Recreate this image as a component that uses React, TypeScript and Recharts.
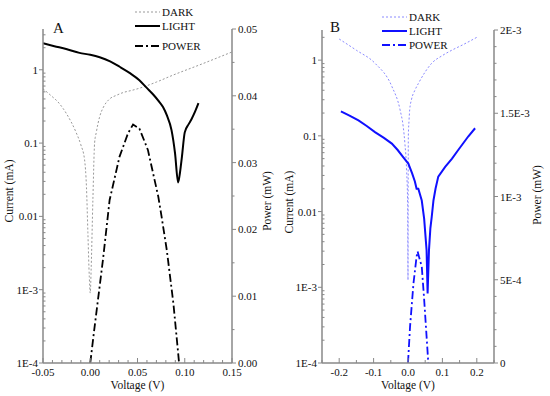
import React from 'react';
import { LineChart, Line, XAxis, YAxis, Legend } from 'recharts';

// ---------- Panel A data ----------
const darkAV = [-0.05, -0.042, -0.033, -0.025, -0.015, -0.01, -0.006, -0.004, -0.0025, -0.001, 0, 0.001, 0.0028, 0.0046, 0.0064, 0.01, 0.014, 0.0205, 0.028, 0.035, 0.043, 0.052, 0.07, 0.088, 0.116, 0.15];
const darkAI = [0.55, 0.45, 0.35, 0.25, 0.14, 0.095, 0.059, 0.025, 0.006, 0.0015, 0.0009, 0.002, 0.017, 0.1, 0.14, 0.23, 0.31, 0.4, 0.45, 0.49, 0.52, 0.56, 0.68, 0.85, 1.17, 1.75];
const lightAV = [-0.05, -0.038, -0.0255, -0.0114, 0, 0.01, 0.021, 0.031, 0.042, 0.052, 0.0596, 0.0666, 0.072, 0.077, 0.081, 0.086, 0.0897, 0.093, 0.095, 0.097, 0.1, 0.104, 0.107, 0.111, 0.1145];
const lightAI = [2.3, 2.1, 1.92, 1.7, 1.6, 1.48, 1.3, 1.1, 0.9, 0.72, 0.57, 0.46, 0.38, 0.31, 0.24, 0.15, 0.073, 0.029, 0.04, 0.065, 0.14, 0.18, 0.21, 0.27, 0.35];
const powerAV = [0, 0.0046, 0.0134, 0.0205, 0.031, 0.04, 0.0453, 0.052, 0.061, 0.072, 0.0755, 0.081, 0.088, 0.093, 0.094];
const powerAP = [0, 0.0054, 0.0154, 0.0244, 0.0309, 0.0344, 0.0357, 0.0351, 0.0319, 0.0249, 0.0219, 0.0169, 0.0089, 0.0015, 0.0];

// ---------- Panel B data ----------
const darkBV = [-0.2, -0.15, -0.096, -0.047, -0.023, -0.0137, -0.009, -0.004, -0.001, 0, 0.0005, 0.001, 0.003, 0.0049, 0.01, 0.02, 0.03, 0.05, 0.069, 0.1, 0.127, 0.16, 0.2];
const darkBI = [1.9, 1.35, 0.91, 0.45, 0.22, 0.13, 0.079, 0.035, 0.012, 0.00125, 0.02, 0.1, 0.16, 0.22, 0.3, 0.4, 0.49, 0.7, 0.91, 1.15, 1.35, 1.6, 2.0];
const lightBV = [-0.195, -0.17, -0.144, -0.12, -0.096, -0.07, -0.047, -0.03, -0.0135, 0.001, 0.012, 0.02, 0.025, 0.03, 0.04, 0.047, 0.054, 0.057, 0.061, 0.065, 0.069, 0.074, 0.08, 0.088, 0.108, 0.128, 0.146, 0.175, 0.195];
const lightBI = [0.21, 0.185, 0.16, 0.135, 0.112, 0.094, 0.079, 0.065, 0.052, 0.043, 0.032, 0.025, 0.02, 0.02, 0.014, 0.008, 0.0031, 0.00083, 0.0031, 0.006, 0.0085, 0.014, 0.02, 0.029, 0.039, 0.05, 0.065, 0.098, 0.126];
const powerBV = [0, 0.006, 0.016, 0.025, 0.028, 0.033, 0.04, 0.047, 0.054, 0.059];
const powerBP = [0, 0.00022, 0.00048, 0.00064, 0.00067, 0.00063, 0.00058, 0.00038, 0.00016, 0];

// ---------- ticks ----------
const logMajors = [1e-4, 1e-3, 0.01, 0.1, 1];
const logLabels = ['1E-4', '1E-3', '0.01', '0.1', '1'];
const xAMajors = [-0.05, 0, 0.05, 0.1, 0.15];
const xALabels = ['-0.05', '0.00', '0.05', '0.10', '0.15'];
const pAMajors = [0, 0.01, 0.02, 0.03, 0.04, 0.05];
const pALabels = ['0.00', '0.01', '0.02', '0.03', '0.04', '0.05'];
const xBMajors = [-0.2, -0.1, 0, 0.1, 0.2];
const xBLabels = ['-0.2', '-0.1', '0.0', '0.1', '0.2'];
const pBMajors = [0, 0.0005, 0.001, 0.0015, 0.002];
const pBLabels = ['0', '5E-4', '1E-3', '1.5E-3', '2E-3'];

const seriesNames = ['DARK', 'LIGHT', 'POWER'];

const FONT = 'Liberation Serif, Times New Roman, serif';
const AXIS = '#888';
const TXT = { fontFamily: FONT } as React.CSSProperties;

const zip = (xs: number[], ys: number[], key: string) => xs.map((v, k) => ({ v, [key]: ys[k] }));

const range = (a: number, b: number, step: number) => {
  const out: number[] = [];
  const n = Math.round((b - a) / step);
  for (let k = 0; k <= n; k++) out.push(+(a + k * step).toFixed(6));
  return out;
};
const logTicks = (() => {
  const out: number[] = [];
  for (let e = -4; e <= 0; e++) for (let m = 1; m <= 9; m++) {
    const v = +(m * Math.pow(10, e)).toPrecision(3);
    if (v <= 3.5) out.push(v);
  }
  return Array.from(new Set(out)).sort((a, b) => a - b);
})();

function makeTick(orient: 'bottom' | 'left' | 'right', majors: number[], labels: string[]) {
  return (props: any) => {
    const { x, y, payload } = props;
    const val = payload.value;
    const idx = majors.findIndex((m) => Math.abs(m - val) < Math.max(1e-9, Math.abs(m) * 1e-6));
    const major = idx >= 0;
    if (orient === 'bottom') {
      return (
        <g>
          <line x1={x} x2={x} y1={y} y2={y - (major ? 5 : 3)} stroke={AXIS} strokeWidth={1} />
          {major && (
            <text x={x} y={y + 13} textAnchor="middle" fontSize={11} style={TXT} fill="#111">{labels[idx]}</text>
          )}
        </g>
      );
    }
    if (orient === 'left') {
      return (
        <g>
          {major ? (
            <line x1={x - 4} x2={x} y1={y} y2={y} stroke={AXIS} strokeWidth={1} />
          ) : (
            <line x1={x} x2={x + 2.5} y1={y} y2={y} stroke={AXIS} strokeWidth={1} />
          )}
          {major && (
            <text x={x - 5} y={y + 4} textAnchor="end" fontSize={11} style={TXT} fill="#111">{labels[idx]}</text>
          )}
        </g>
      );
    }
    return (
      <g>
        <line x1={x} x2={x + (major ? 4 : 2.5)} y1={y} y2={y} stroke={AXIS} strokeWidth={1} />
        {major && (
          <text x={x + 6} y={y + 4} textAnchor="start" fontSize={11} style={TXT} fill="#111">{labels[idx]}</text>
        )}
      </g>
    );
  };
}

type Sty = { stroke: string; width: number; dash?: string };

function legendContent(styles: Sty[], rows: number[]) {
  return () => (
    <svg width={100} height={56} style={{ display: 'block', overflow: 'visible' }}>
      {seriesNames.map((n, k) => (
        <g key={n}>
          <line x1={5} x2={30} y1={rows[k]} y2={rows[k]} stroke={styles[k].stroke} strokeWidth={styles[k].width} strokeDasharray={styles[k].dash} />
          <text x={32} y={rows[k] + 4} fontSize={11} style={TXT} fill="#111">{n}</text>
        </g>
      ))}
    </svg>
  );
}

const stylesA: Sty[] = [
  { stroke: '#999', width: 1, dash: '2 2' },
  { stroke: '#000', width: 2, dash: undefined },
  { stroke: '#000', width: 1.8, dash: '8 3 2 3' },
];
const stylesB: Sty[] = [
  { stroke: '#8a8aff', width: 1, dash: '2 2' },
  { stroke: '#1010ff', width: 2, dash: undefined },
  { stroke: '#1010ff', width: 1.8, dash: '8 3 2 3' },
];

function Title({ x, y, text }: { x: number; y: number; text: string }) {
  return (
    <text x={x} y={y} transform={`rotate(-90 ${x} ${y})`} textAnchor="middle" dominantBaseline="central" fontSize={11.5} style={TXT} fill="#111">{text}</text>
  );
}

export default function App() {
  const dA = zip(darkAV, darkAI, 'i');
  const lA = zip(lightAV, lightAI, 'i');
  const pA = zip(powerAV, powerAP, 'p');
  const dB = zip(darkBV, darkBI, 'i');
  const lB = zip(lightBV, lightBI, 'i');
  const pB = zip(powerBV, powerBP, 'p');

  return (
    <div style={{ position: 'absolute', left: 0, top: 0, width: 550, height: 396, background: '#fff', overflow: 'hidden' }}>
      <div style={{ position: 'absolute', left: 0, top: 0 }}>
        <LineChart width={290} height={396} margin={{ top: 29, right: 0, bottom: 0, left: 0 }}>
          <XAxis type="number" dataKey="v" domain={[-0.05, 0.15]} ticks={range(-0.05, 0.15, 0.01)} interval={0} height={33}
            tickSize={0} tickMargin={0} tickLine={false} axisLine={{ stroke: AXIS, strokeWidth: 1.5 }}
            tick={makeTick('bottom', xAMajors, xALabels)} allowDataOverflow />
          <YAxis yAxisId="i" scale="log" domain={[1e-4, 3.6]} allowDataOverflow ticks={logTicks} interval={0} width={43}
            tickSize={0} tickMargin={0} tickLine={false} axisLine={{ stroke: AXIS, strokeWidth: 1.5 }}
            tick={makeTick('left', logMajors, logLabels)} />
          <YAxis yAxisId="p" orientation="right" domain={[0, 0.05]} allowDataOverflow ticks={range(0, 0.05, 0.005)} interval={0} width={58}
            tickSize={0} tickMargin={0} tickLine={false} axisLine={{ stroke: AXIS, strokeWidth: 1.5 }}
            tick={makeTick('right', pAMajors, pALabels)} />
          <Legend layout="vertical" align="center" verticalAlign="middle"
            wrapperStyle={{ position: 'absolute', left: 130, top: 0, width: 100, height: 56 }}
            content={legendContent(stylesA, [12, 26, 46])} />
          <Line yAxisId="i" data={dA} dataKey="i" name="DARK" type="monotone" dot={false} stroke={stylesA[0].stroke} strokeWidth={1} strokeDasharray="2 2" isAnimationActive={false} />
          <Line yAxisId="i" data={lA} dataKey="i" name="LIGHT" type="monotone" dot={false} stroke={stylesA[1].stroke} strokeWidth={2} isAnimationActive={false} />
          <Line yAxisId="p" data={pA} dataKey="p" name="POWER" type="linear" dot={false} stroke={stylesA[2].stroke} strokeWidth={1.8} strokeDasharray="8 3 2 3" isAnimationActive={false} />
        </LineChart>
      </div>
      <div style={{ position: 'absolute', left: 275, top: 0 }}>
        <LineChart width={275} height={396} margin={{ top: 30, right: 0, bottom: 0, left: 0 }}>
          <XAxis type="number" dataKey="v" domain={[-0.25, 0.25]} ticks={range(-0.25, 0.25, 0.05)} interval={0} height={33}
            tickSize={0} tickMargin={0} tickLine={false} axisLine={{ stroke: AXIS, strokeWidth: 1.5 }}
            tick={makeTick('bottom', xBMajors, xBLabels)} allowDataOverflow />
          <YAxis yAxisId="i" scale="log" domain={[1e-4, 2.5]} allowDataOverflow ticks={logTicks.filter((t) => t <= 2.5)} interval={0} width={47}
            tickSize={0} tickMargin={0} tickLine={false} axisLine={{ stroke: AXIS, strokeWidth: 1.5 }}
            tick={makeTick('left', logMajors, logLabels)} />
          <YAxis yAxisId="p" orientation="right" domain={[0, 0.002]} allowDataOverflow ticks={range(0, 0.002, 0.0001)} interval={0} width={56}
            tickSize={0} tickMargin={0} tickLine={false} axisLine={{ stroke: AXIS, strokeWidth: 1.5 }}
            tick={makeTick('right', pBMajors, pBLabels)} />
          <Legend layout="vertical" align="center" verticalAlign="middle"
            wrapperStyle={{ position: 'absolute', left: 102, top: 0, width: 100, height: 56 }}
            content={legendContent(stylesB, [17, 31, 45])} />
          <Line yAxisId="i" data={dB} dataKey="i" name="DARK" type="monotone" dot={false} stroke={stylesB[0].stroke} strokeWidth={1} strokeDasharray="2 2" isAnimationActive={false} />
          <Line yAxisId="i" data={lB} dataKey="i" name="LIGHT" type="linear" dot={false} stroke={stylesB[1].stroke} strokeWidth={2} isAnimationActive={false} />
          <Line yAxisId="p" data={pB} dataKey="p" name="POWER" type="linear" dot={false} stroke={stylesB[2].stroke} strokeWidth={1.8} strokeDasharray="8 3 2 3" isAnimationActive={false} />
        </LineChart>
      </div>
      <svg width={550} height={396} style={{ position: 'absolute', left: 0, top: 0, pointerEvents: 'none' }}>
        <text x={53} y={33} fontSize={15} style={TXT} fill="#111">A</text>
        <text x={330} y={32} fontSize={15} style={TXT} fill="#111">B</text>
        <Title x={9} y={191} text="Current (mA)" />
        <Title x={267} y={201} text="Power (mW)" />
        <Title x={289} y={202} text="Current (mA)" />
        <Title x={537} y={195} text="Power (mW)" />
        <text x={137.5} y={389} textAnchor="middle" fontSize={11.5} style={TXT} fill="#111">Voltage (V)</text>
        <text x={408} y={389} textAnchor="middle" fontSize={11.5} style={TXT} fill="#111">Voltage (V)</text>
      </svg>
    </div>
  );
}
